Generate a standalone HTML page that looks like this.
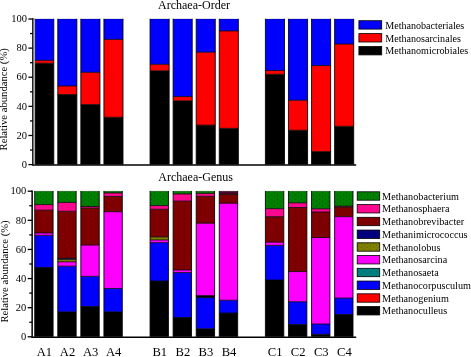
<!DOCTYPE html>
<html><head><meta charset="utf-8"><title>Archaea relative abundance</title>
<style>html,body{margin:0;padding:0;background:#fff;}body{width:471px;height:357px;overflow:hidden;position:relative;font-family:"Liberation Serif",serif;}</style></head>
<body>
<svg width="471" height="357" viewBox="0 0 471 357" style="position:absolute;left:0;top:0;will-change:transform">
<defs>
<pattern id="p_navy" width="6" height="4.4" patternUnits="userSpaceOnUse"><rect width="6" height="4.4" fill="#000080"/><circle cx="1.3" cy="1.1" r="0.5" fill="#000" fill-opacity="0.40"/><circle cx="4.3" cy="3.3" r="0.5" fill="#000" fill-opacity="0.40"/></pattern>
<pattern id="p_olive" width="6" height="4.4" patternUnits="userSpaceOnUse"><rect width="6" height="4.4" fill="#808000"/><circle cx="1.3" cy="1.1" r="0.5" fill="#000" fill-opacity="0.40"/><circle cx="4.3" cy="3.3" r="0.5" fill="#000" fill-opacity="0.40"/></pattern>
<pattern id="p_green" width="6" height="4.4" patternUnits="userSpaceOnUse"><rect width="6" height="4.4" fill="#008000"/><circle cx="1.3" cy="1.1" r="0.5" fill="#000" fill-opacity="0.50"/><circle cx="4.3" cy="3.3" r="0.5" fill="#000" fill-opacity="0.50"/></pattern>
<pattern id="p_maroon" width="6" height="4.4" patternUnits="userSpaceOnUse"><rect width="6" height="4.4" fill="#800000"/><circle cx="1.3" cy="1.1" r="0.5" fill="#000" fill-opacity="0.30"/><circle cx="4.3" cy="3.3" r="0.5" fill="#000" fill-opacity="0.30"/></pattern>
<pattern id="p_teal" width="6" height="4.4" patternUnits="userSpaceOnUse"><rect width="6" height="4.4" fill="#008080"/><circle cx="1.3" cy="1.1" r="0.5" fill="#000" fill-opacity="0.40"/><circle cx="4.3" cy="3.3" r="0.5" fill="#000" fill-opacity="0.40"/></pattern>
</defs>
<rect width="471" height="357" fill="#fff"/>
<g font-family="'Liberation Serif', serif" fill="#000">
<rect x="34.70" y="63.26" width="19.10" height="101.34" fill="#000000"/>
<rect x="34.70" y="60.35" width="19.10" height="2.91" fill="#ff0000"/>
<rect x="34.70" y="19.00" width="19.10" height="41.35" fill="#0000ff"/>
<line x1="34.70" y1="63.26" x2="53.80" y2="63.26" stroke="#000" stroke-width="0.80"/>
<line x1="34.70" y1="60.35" x2="53.80" y2="60.35" stroke="#000" stroke-width="0.80"/>
<line x1="34.30" y1="19.10" x2="54.20" y2="19.10" stroke="#000" stroke-width="0.6" stroke-opacity="0.45"/>
<line x1="34.70" y1="18.80" x2="34.70" y2="164.60" stroke="#000" stroke-width="0.85"/>
<line x1="53.80" y1="18.80" x2="53.80" y2="164.60" stroke="#000" stroke-width="0.85"/>
<rect x="57.77" y="94.57" width="19.10" height="70.03" fill="#000000"/>
<rect x="57.77" y="85.98" width="19.10" height="8.59" fill="#ff0000"/>
<rect x="57.77" y="19.00" width="19.10" height="66.98" fill="#0000ff"/>
<line x1="57.77" y1="94.57" x2="76.87" y2="94.57" stroke="#000" stroke-width="0.80"/>
<line x1="57.77" y1="85.98" x2="76.87" y2="85.98" stroke="#000" stroke-width="0.80"/>
<line x1="57.37" y1="19.10" x2="77.27" y2="19.10" stroke="#000" stroke-width="0.6" stroke-opacity="0.45"/>
<line x1="57.77" y1="18.80" x2="57.77" y2="164.60" stroke="#000" stroke-width="0.85"/>
<line x1="76.87" y1="18.80" x2="76.87" y2="164.60" stroke="#000" stroke-width="0.85"/>
<rect x="80.84" y="104.61" width="19.10" height="59.99" fill="#000000"/>
<rect x="80.84" y="72.29" width="19.10" height="32.32" fill="#ff0000"/>
<rect x="80.84" y="19.00" width="19.10" height="53.29" fill="#0000ff"/>
<line x1="80.84" y1="104.61" x2="99.94" y2="104.61" stroke="#000" stroke-width="0.80"/>
<line x1="80.84" y1="72.29" x2="99.94" y2="72.29" stroke="#000" stroke-width="0.80"/>
<line x1="80.44" y1="19.10" x2="100.34" y2="19.10" stroke="#000" stroke-width="0.6" stroke-opacity="0.45"/>
<line x1="80.84" y1="18.80" x2="80.84" y2="164.60" stroke="#000" stroke-width="0.85"/>
<line x1="99.94" y1="18.80" x2="99.94" y2="164.60" stroke="#000" stroke-width="0.85"/>
<rect x="103.91" y="117.28" width="19.10" height="47.32" fill="#000000"/>
<rect x="103.91" y="39.38" width="19.10" height="77.90" fill="#ff0000"/>
<rect x="103.91" y="19.00" width="19.10" height="20.38" fill="#0000ff"/>
<line x1="103.91" y1="117.28" x2="123.01" y2="117.28" stroke="#000" stroke-width="0.80"/>
<line x1="103.91" y1="39.38" x2="123.01" y2="39.38" stroke="#000" stroke-width="0.80"/>
<line x1="103.51" y1="19.10" x2="123.41" y2="19.10" stroke="#000" stroke-width="0.6" stroke-opacity="0.45"/>
<line x1="103.91" y1="18.80" x2="103.91" y2="164.60" stroke="#000" stroke-width="0.85"/>
<line x1="123.01" y1="18.80" x2="123.01" y2="164.60" stroke="#000" stroke-width="0.85"/>
<rect x="150.05" y="70.83" width="19.10" height="93.77" fill="#000000"/>
<rect x="150.05" y="64.28" width="19.10" height="6.55" fill="#ff0000"/>
<rect x="150.05" y="19.00" width="19.10" height="45.28" fill="#0000ff"/>
<line x1="150.05" y1="70.83" x2="169.15" y2="70.83" stroke="#000" stroke-width="0.80"/>
<line x1="150.05" y1="64.28" x2="169.15" y2="64.28" stroke="#000" stroke-width="0.80"/>
<line x1="149.65" y1="19.10" x2="169.55" y2="19.10" stroke="#000" stroke-width="0.6" stroke-opacity="0.45"/>
<line x1="150.05" y1="18.80" x2="150.05" y2="164.60" stroke="#000" stroke-width="0.85"/>
<line x1="169.15" y1="18.80" x2="169.15" y2="164.60" stroke="#000" stroke-width="0.85"/>
<rect x="173.12" y="100.83" width="19.10" height="63.77" fill="#000000"/>
<rect x="173.12" y="96.60" width="19.10" height="4.22" fill="#ff0000"/>
<rect x="173.12" y="19.00" width="19.10" height="77.60" fill="#0000ff"/>
<line x1="173.12" y1="100.83" x2="192.22" y2="100.83" stroke="#000" stroke-width="0.80"/>
<line x1="173.12" y1="96.60" x2="192.22" y2="96.60" stroke="#000" stroke-width="0.80"/>
<line x1="172.72" y1="19.10" x2="192.62" y2="19.10" stroke="#000" stroke-width="0.6" stroke-opacity="0.45"/>
<line x1="173.12" y1="18.80" x2="173.12" y2="164.60" stroke="#000" stroke-width="0.85"/>
<line x1="192.22" y1="18.80" x2="192.22" y2="164.60" stroke="#000" stroke-width="0.85"/>
<rect x="196.19" y="125.14" width="19.10" height="39.46" fill="#000000"/>
<rect x="196.19" y="52.20" width="19.10" height="72.95" fill="#ff0000"/>
<rect x="196.19" y="19.00" width="19.10" height="33.20" fill="#0000ff"/>
<line x1="196.19" y1="125.14" x2="215.29" y2="125.14" stroke="#000" stroke-width="0.80"/>
<line x1="196.19" y1="52.20" x2="215.29" y2="52.20" stroke="#000" stroke-width="0.80"/>
<line x1="195.79" y1="19.10" x2="215.69" y2="19.10" stroke="#000" stroke-width="0.6" stroke-opacity="0.45"/>
<line x1="196.19" y1="18.80" x2="196.19" y2="164.60" stroke="#000" stroke-width="0.85"/>
<line x1="215.29" y1="18.80" x2="215.29" y2="164.60" stroke="#000" stroke-width="0.85"/>
<rect x="219.26" y="128.35" width="19.10" height="36.25" fill="#000000"/>
<rect x="219.26" y="30.94" width="19.10" height="97.41" fill="#ff0000"/>
<rect x="219.26" y="19.00" width="19.10" height="11.94" fill="#0000ff"/>
<line x1="219.26" y1="128.35" x2="238.36" y2="128.35" stroke="#000" stroke-width="0.80"/>
<line x1="219.26" y1="30.94" x2="238.36" y2="30.94" stroke="#000" stroke-width="0.80"/>
<line x1="218.86" y1="19.10" x2="238.76" y2="19.10" stroke="#000" stroke-width="0.6" stroke-opacity="0.45"/>
<line x1="219.26" y1="18.80" x2="219.26" y2="164.60" stroke="#000" stroke-width="0.85"/>
<line x1="238.36" y1="18.80" x2="238.36" y2="164.60" stroke="#000" stroke-width="0.85"/>
<rect x="265.40" y="74.33" width="19.10" height="90.27" fill="#000000"/>
<rect x="265.40" y="70.54" width="19.10" height="3.79" fill="#ff0000"/>
<rect x="265.40" y="19.00" width="19.10" height="51.54" fill="#0000ff"/>
<line x1="265.40" y1="74.33" x2="284.50" y2="74.33" stroke="#000" stroke-width="0.80"/>
<line x1="265.40" y1="70.54" x2="284.50" y2="70.54" stroke="#000" stroke-width="0.80"/>
<line x1="265.00" y1="19.10" x2="284.90" y2="19.10" stroke="#000" stroke-width="0.6" stroke-opacity="0.45"/>
<line x1="265.40" y1="18.80" x2="265.40" y2="164.60" stroke="#000" stroke-width="0.85"/>
<line x1="284.50" y1="18.80" x2="284.50" y2="164.60" stroke="#000" stroke-width="0.85"/>
<rect x="288.47" y="130.24" width="19.10" height="34.36" fill="#000000"/>
<rect x="288.47" y="100.24" width="19.10" height="29.99" fill="#ff0000"/>
<rect x="288.47" y="19.00" width="19.10" height="81.24" fill="#0000ff"/>
<line x1="288.47" y1="130.24" x2="307.57" y2="130.24" stroke="#000" stroke-width="0.80"/>
<line x1="288.47" y1="100.24" x2="307.57" y2="100.24" stroke="#000" stroke-width="0.80"/>
<line x1="288.07" y1="19.10" x2="307.97" y2="19.10" stroke="#000" stroke-width="0.6" stroke-opacity="0.45"/>
<line x1="288.47" y1="18.80" x2="288.47" y2="164.60" stroke="#000" stroke-width="0.85"/>
<line x1="307.57" y1="18.80" x2="307.57" y2="164.60" stroke="#000" stroke-width="0.85"/>
<rect x="311.54" y="151.64" width="19.10" height="12.96" fill="#000000"/>
<rect x="311.54" y="65.59" width="19.10" height="86.05" fill="#ff0000"/>
<rect x="311.54" y="19.00" width="19.10" height="46.59" fill="#0000ff"/>
<line x1="311.54" y1="151.64" x2="330.64" y2="151.64" stroke="#000" stroke-width="0.80"/>
<line x1="311.54" y1="65.59" x2="330.64" y2="65.59" stroke="#000" stroke-width="0.80"/>
<line x1="311.14" y1="19.10" x2="331.04" y2="19.10" stroke="#000" stroke-width="0.6" stroke-opacity="0.45"/>
<line x1="311.54" y1="18.80" x2="311.54" y2="164.60" stroke="#000" stroke-width="0.85"/>
<line x1="330.64" y1="18.80" x2="330.64" y2="164.60" stroke="#000" stroke-width="0.85"/>
<rect x="334.61" y="126.31" width="19.10" height="38.29" fill="#000000"/>
<rect x="334.61" y="44.04" width="19.10" height="82.26" fill="#ff0000"/>
<rect x="334.61" y="19.00" width="19.10" height="25.04" fill="#0000ff"/>
<line x1="334.61" y1="126.31" x2="353.71" y2="126.31" stroke="#000" stroke-width="0.80"/>
<line x1="334.61" y1="44.04" x2="353.71" y2="44.04" stroke="#000" stroke-width="0.80"/>
<line x1="334.21" y1="19.10" x2="354.11" y2="19.10" stroke="#000" stroke-width="0.6" stroke-opacity="0.45"/>
<line x1="334.61" y1="18.80" x2="334.61" y2="164.60" stroke="#000" stroke-width="0.85"/>
<line x1="353.71" y1="18.80" x2="353.71" y2="164.60" stroke="#000" stroke-width="0.85"/>
<line x1="32.90" y1="18.30" x2="32.90" y2="165.30" stroke="#000" stroke-width="1.5"/>
<line x1="32.20" y1="165.10" x2="356.20" y2="165.10" stroke="#000" stroke-width="1.5"/>
<line x1="28.40" y1="164.60" x2="32.90" y2="164.60" stroke="#000" stroke-width="1.3"/>
<text x="27.10" y="167.80" font-size="10.5" text-anchor="end">0</text>
<line x1="30.00" y1="150.04" x2="32.90" y2="150.04" stroke="#000" stroke-width="1.3"/>
<line x1="28.40" y1="135.48" x2="32.90" y2="135.48" stroke="#000" stroke-width="1.3"/>
<text x="27.10" y="138.68" font-size="10.5" text-anchor="end">20</text>
<line x1="30.00" y1="120.92" x2="32.90" y2="120.92" stroke="#000" stroke-width="1.3"/>
<line x1="28.40" y1="106.36" x2="32.90" y2="106.36" stroke="#000" stroke-width="1.3"/>
<text x="27.10" y="109.56" font-size="10.5" text-anchor="end">40</text>
<line x1="30.00" y1="91.80" x2="32.90" y2="91.80" stroke="#000" stroke-width="1.3"/>
<line x1="28.40" y1="77.24" x2="32.90" y2="77.24" stroke="#000" stroke-width="1.3"/>
<text x="27.10" y="80.44" font-size="10.5" text-anchor="end">60</text>
<line x1="30.00" y1="62.68" x2="32.90" y2="62.68" stroke="#000" stroke-width="1.3"/>
<line x1="28.40" y1="48.12" x2="32.90" y2="48.12" stroke="#000" stroke-width="1.3"/>
<text x="27.10" y="51.32" font-size="10.5" text-anchor="end">80</text>
<line x1="30.00" y1="33.56" x2="32.90" y2="33.56" stroke="#000" stroke-width="1.3"/>
<line x1="28.40" y1="19.00" x2="32.90" y2="19.00" stroke="#000" stroke-width="1.3"/>
<text x="27.10" y="22.20" font-size="10.5" text-anchor="end">100</text>
<text transform="translate(7.40 99.30) rotate(-90)" font-size="10.65" text-anchor="middle">Relative abundance (%)</text>
<line x1="34.35" y1="19.30" x2="34.35" y2="164.40" stroke="#b0b0b0" stroke-width="1.5"/>
<rect x="34.70" y="267.49" width="18.40" height="69.31" fill="#000000"/>
<rect x="34.70" y="235.32" width="18.40" height="32.18" fill="#0000ff"/>
<rect x="34.70" y="232.99" width="18.40" height="2.33" fill="#ff00ff"/>
<rect x="34.70" y="210.13" width="18.40" height="22.86" fill="url(#p_maroon)"/>
<rect x="34.70" y="204.60" width="18.40" height="5.53" fill="#ff0890"/>
<rect x="34.70" y="191.20" width="18.40" height="13.40" fill="url(#p_green)"/>
<line x1="34.70" y1="267.49" x2="53.10" y2="267.49" stroke="#000" stroke-width="0.80"/>
<line x1="34.70" y1="235.32" x2="53.10" y2="235.32" stroke="#000" stroke-width="0.80"/>
<line x1="34.70" y1="232.99" x2="53.10" y2="232.99" stroke="#000" stroke-width="0.80"/>
<line x1="34.70" y1="210.13" x2="53.10" y2="210.13" stroke="#000" stroke-width="0.80"/>
<line x1="34.70" y1="204.60" x2="53.10" y2="204.60" stroke="#000" stroke-width="0.80"/>
<line x1="34.30" y1="191.30" x2="53.50" y2="191.30" stroke="#000" stroke-width="0.6" stroke-opacity="0.45"/>
<line x1="34.70" y1="191.00" x2="34.70" y2="336.80" stroke="#000" stroke-width="0.85"/>
<line x1="53.10" y1="191.00" x2="53.10" y2="336.80" stroke="#000" stroke-width="0.85"/>
<rect x="57.77" y="311.90" width="18.40" height="24.90" fill="#000000"/>
<rect x="57.77" y="266.18" width="18.40" height="45.72" fill="#0000ff"/>
<rect x="57.77" y="261.82" width="18.40" height="4.37" fill="#ff00ff"/>
<rect x="57.77" y="259.27" width="18.40" height="2.55" fill="url(#p_olive)"/>
<rect x="57.77" y="258.32" width="18.40" height="0.95" fill="url(#p_navy)"/>
<rect x="57.77" y="211.29" width="18.40" height="47.03" fill="url(#p_maroon)"/>
<rect x="57.77" y="202.41" width="18.40" height="8.88" fill="#ff0890"/>
<rect x="57.77" y="191.20" width="18.40" height="11.21" fill="url(#p_green)"/>
<line x1="57.77" y1="311.90" x2="76.17" y2="311.90" stroke="#000" stroke-width="0.80"/>
<line x1="57.77" y1="266.18" x2="76.17" y2="266.18" stroke="#000" stroke-width="0.80"/>
<line x1="57.77" y1="261.82" x2="76.17" y2="261.82" stroke="#000" stroke-width="0.80"/>
<line x1="57.77" y1="259.27" x2="76.17" y2="259.27" stroke="#000" stroke-width="0.80"/>
<line x1="57.77" y1="258.32" x2="76.17" y2="258.32" stroke="#000" stroke-width="0.80"/>
<line x1="57.77" y1="211.29" x2="76.17" y2="211.29" stroke="#000" stroke-width="0.80"/>
<line x1="57.77" y1="202.41" x2="76.17" y2="202.41" stroke="#000" stroke-width="0.80"/>
<line x1="57.37" y1="191.30" x2="76.57" y2="191.30" stroke="#000" stroke-width="0.6" stroke-opacity="0.45"/>
<line x1="57.77" y1="191.00" x2="57.77" y2="336.80" stroke="#000" stroke-width="0.85"/>
<line x1="76.17" y1="191.00" x2="76.17" y2="336.80" stroke="#000" stroke-width="0.85"/>
<rect x="80.84" y="306.52" width="18.40" height="30.28" fill="#000000"/>
<rect x="80.84" y="276.38" width="18.40" height="30.14" fill="#0000ff"/>
<rect x="80.84" y="245.07" width="18.40" height="31.30" fill="#ff00ff"/>
<rect x="80.84" y="208.09" width="18.40" height="36.98" fill="url(#p_maroon)"/>
<rect x="80.84" y="206.49" width="18.40" height="1.60" fill="#ff0890"/>
<rect x="80.84" y="191.20" width="18.40" height="15.29" fill="url(#p_green)"/>
<line x1="80.84" y1="306.52" x2="99.24" y2="306.52" stroke="#000" stroke-width="0.80"/>
<line x1="80.84" y1="276.38" x2="99.24" y2="276.38" stroke="#000" stroke-width="0.80"/>
<line x1="80.84" y1="245.07" x2="99.24" y2="245.07" stroke="#000" stroke-width="0.80"/>
<line x1="80.84" y1="208.09" x2="99.24" y2="208.09" stroke="#000" stroke-width="0.80"/>
<line x1="80.84" y1="206.49" x2="99.24" y2="206.49" stroke="#000" stroke-width="0.80"/>
<line x1="80.44" y1="191.30" x2="99.64" y2="191.30" stroke="#000" stroke-width="0.6" stroke-opacity="0.45"/>
<line x1="80.84" y1="191.00" x2="80.84" y2="336.80" stroke="#000" stroke-width="0.85"/>
<line x1="99.24" y1="191.00" x2="99.24" y2="336.80" stroke="#000" stroke-width="0.85"/>
<rect x="103.91" y="311.90" width="18.40" height="24.90" fill="#000000"/>
<rect x="103.91" y="288.46" width="18.40" height="23.44" fill="#0000ff"/>
<rect x="103.91" y="211.73" width="18.40" height="76.73" fill="#ff00ff"/>
<rect x="103.91" y="196.44" width="18.40" height="15.29" fill="url(#p_maroon)"/>
<rect x="103.91" y="192.95" width="18.40" height="3.49" fill="#ff0890"/>
<rect x="103.91" y="191.20" width="18.40" height="1.75" fill="url(#p_green)"/>
<line x1="103.91" y1="311.90" x2="122.31" y2="311.90" stroke="#000" stroke-width="0.80"/>
<line x1="103.91" y1="288.46" x2="122.31" y2="288.46" stroke="#000" stroke-width="0.80"/>
<line x1="103.91" y1="211.73" x2="122.31" y2="211.73" stroke="#000" stroke-width="0.80"/>
<line x1="103.91" y1="196.44" x2="122.31" y2="196.44" stroke="#000" stroke-width="0.80"/>
<line x1="103.91" y1="192.95" x2="122.31" y2="192.95" stroke="#000" stroke-width="0.80"/>
<line x1="103.51" y1="191.30" x2="122.71" y2="191.30" stroke="#000" stroke-width="0.6" stroke-opacity="0.45"/>
<line x1="103.91" y1="191.00" x2="103.91" y2="336.80" stroke="#000" stroke-width="0.85"/>
<line x1="122.31" y1="191.00" x2="122.31" y2="336.80" stroke="#000" stroke-width="0.85"/>
<rect x="150.05" y="281.04" width="18.40" height="55.76" fill="#000000"/>
<rect x="150.05" y="242.60" width="18.40" height="38.44" fill="#0000ff"/>
<rect x="150.05" y="239.98" width="18.40" height="2.62" fill="#ff00ff"/>
<rect x="150.05" y="236.92" width="18.40" height="3.06" fill="url(#p_olive)"/>
<rect x="150.05" y="209.25" width="18.40" height="27.66" fill="url(#p_maroon)"/>
<rect x="150.05" y="205.61" width="18.40" height="3.64" fill="#ff0890"/>
<rect x="150.05" y="191.20" width="18.40" height="14.41" fill="url(#p_green)"/>
<line x1="150.05" y1="281.04" x2="168.45" y2="281.04" stroke="#000" stroke-width="0.80"/>
<line x1="150.05" y1="242.60" x2="168.45" y2="242.60" stroke="#000" stroke-width="0.80"/>
<line x1="150.05" y1="239.98" x2="168.45" y2="239.98" stroke="#000" stroke-width="0.80"/>
<line x1="150.05" y1="236.92" x2="168.45" y2="236.92" stroke="#000" stroke-width="0.80"/>
<line x1="150.05" y1="209.25" x2="168.45" y2="209.25" stroke="#000" stroke-width="0.80"/>
<line x1="150.05" y1="205.61" x2="168.45" y2="205.61" stroke="#000" stroke-width="0.80"/>
<line x1="149.65" y1="191.30" x2="168.85" y2="191.30" stroke="#000" stroke-width="0.6" stroke-opacity="0.45"/>
<line x1="150.05" y1="191.00" x2="150.05" y2="336.80" stroke="#000" stroke-width="0.85"/>
<line x1="168.45" y1="191.00" x2="168.45" y2="336.80" stroke="#000" stroke-width="0.85"/>
<rect x="173.12" y="317.44" width="18.40" height="19.36" fill="#000000"/>
<rect x="173.12" y="272.59" width="18.40" height="44.84" fill="#0000ff"/>
<rect x="173.12" y="269.97" width="18.40" height="2.62" fill="#ff00ff"/>
<rect x="173.12" y="201.10" width="18.40" height="68.87" fill="url(#p_maroon)"/>
<rect x="173.12" y="193.97" width="18.40" height="7.13" fill="#ff0890"/>
<rect x="173.12" y="191.20" width="18.40" height="2.77" fill="url(#p_green)"/>
<line x1="173.12" y1="317.44" x2="191.52" y2="317.44" stroke="#000" stroke-width="0.80"/>
<line x1="173.12" y1="272.59" x2="191.52" y2="272.59" stroke="#000" stroke-width="0.80"/>
<line x1="173.12" y1="269.97" x2="191.52" y2="269.97" stroke="#000" stroke-width="0.80"/>
<line x1="173.12" y1="201.10" x2="191.52" y2="201.10" stroke="#000" stroke-width="0.80"/>
<line x1="173.12" y1="193.97" x2="191.52" y2="193.97" stroke="#000" stroke-width="0.80"/>
<line x1="172.72" y1="191.30" x2="191.92" y2="191.30" stroke="#000" stroke-width="0.6" stroke-opacity="0.45"/>
<line x1="173.12" y1="191.00" x2="173.12" y2="336.80" stroke="#000" stroke-width="0.85"/>
<line x1="191.52" y1="191.00" x2="191.52" y2="336.80" stroke="#000" stroke-width="0.85"/>
<rect x="196.19" y="328.79" width="18.40" height="8.01" fill="#000000"/>
<rect x="196.19" y="297.63" width="18.40" height="31.16" fill="#0000ff"/>
<rect x="196.19" y="295.60" width="18.40" height="2.04" fill="#000000"/>
<rect x="196.19" y="223.23" width="18.40" height="72.36" fill="#ff00ff"/>
<rect x="196.19" y="196.30" width="18.40" height="26.94" fill="url(#p_maroon)"/>
<rect x="196.19" y="193.38" width="18.40" height="2.91" fill="#ff0890"/>
<rect x="196.19" y="191.20" width="18.40" height="2.18" fill="url(#p_green)"/>
<line x1="196.19" y1="328.79" x2="214.59" y2="328.79" stroke="#000" stroke-width="0.80"/>
<line x1="196.19" y1="297.63" x2="214.59" y2="297.63" stroke="#000" stroke-width="0.80"/>
<line x1="196.19" y1="295.60" x2="214.59" y2="295.60" stroke="#000" stroke-width="0.80"/>
<line x1="196.19" y1="223.23" x2="214.59" y2="223.23" stroke="#000" stroke-width="0.80"/>
<line x1="196.19" y1="196.30" x2="214.59" y2="196.30" stroke="#000" stroke-width="0.80"/>
<line x1="196.19" y1="193.38" x2="214.59" y2="193.38" stroke="#000" stroke-width="0.80"/>
<line x1="195.79" y1="191.30" x2="214.99" y2="191.30" stroke="#000" stroke-width="0.6" stroke-opacity="0.45"/>
<line x1="196.19" y1="191.00" x2="196.19" y2="336.80" stroke="#000" stroke-width="0.85"/>
<line x1="214.59" y1="191.00" x2="214.59" y2="336.80" stroke="#000" stroke-width="0.85"/>
<rect x="219.26" y="313.07" width="18.40" height="23.73" fill="#000000"/>
<rect x="219.26" y="300.25" width="18.40" height="12.81" fill="#0000ff"/>
<rect x="219.26" y="203.28" width="18.40" height="96.97" fill="#ff00ff"/>
<rect x="219.26" y="194.40" width="18.40" height="8.88" fill="url(#p_maroon)"/>
<rect x="219.26" y="191.20" width="18.40" height="3.20" fill="#4a0828"/>
<line x1="219.26" y1="313.07" x2="237.66" y2="313.07" stroke="#000" stroke-width="0.80"/>
<line x1="219.26" y1="300.25" x2="237.66" y2="300.25" stroke="#000" stroke-width="0.80"/>
<line x1="219.26" y1="203.28" x2="237.66" y2="203.28" stroke="#000" stroke-width="0.80"/>
<line x1="219.26" y1="194.40" x2="237.66" y2="194.40" stroke="#000" stroke-width="0.80"/>
<line x1="218.86" y1="191.30" x2="238.06" y2="191.30" stroke="#000" stroke-width="0.6" stroke-opacity="0.45"/>
<line x1="219.26" y1="191.00" x2="219.26" y2="336.80" stroke="#000" stroke-width="0.85"/>
<line x1="237.66" y1="191.00" x2="237.66" y2="336.80" stroke="#000" stroke-width="0.85"/>
<rect x="265.40" y="280.02" width="18.40" height="56.78" fill="#000000"/>
<rect x="265.40" y="245.36" width="18.40" height="34.65" fill="#0000ff"/>
<rect x="265.40" y="242.16" width="18.40" height="3.20" fill="#ff00ff"/>
<rect x="265.40" y="216.68" width="18.40" height="25.48" fill="url(#p_maroon)"/>
<rect x="265.40" y="208.67" width="18.40" height="8.01" fill="#ff0890"/>
<rect x="265.40" y="191.20" width="18.40" height="17.47" fill="url(#p_green)"/>
<line x1="265.40" y1="280.02" x2="283.80" y2="280.02" stroke="#000" stroke-width="0.80"/>
<line x1="265.40" y1="245.36" x2="283.80" y2="245.36" stroke="#000" stroke-width="0.80"/>
<line x1="265.40" y1="242.16" x2="283.80" y2="242.16" stroke="#000" stroke-width="0.80"/>
<line x1="265.40" y1="216.68" x2="283.80" y2="216.68" stroke="#000" stroke-width="0.80"/>
<line x1="265.40" y1="208.67" x2="283.80" y2="208.67" stroke="#000" stroke-width="0.80"/>
<line x1="265.00" y1="191.30" x2="284.20" y2="191.30" stroke="#000" stroke-width="0.6" stroke-opacity="0.45"/>
<line x1="265.40" y1="191.00" x2="265.40" y2="336.80" stroke="#000" stroke-width="0.85"/>
<line x1="283.80" y1="191.00" x2="283.80" y2="336.80" stroke="#000" stroke-width="0.85"/>
<rect x="288.47" y="324.57" width="18.40" height="12.23" fill="#000000"/>
<rect x="288.47" y="301.71" width="18.40" height="22.86" fill="#0000ff"/>
<rect x="288.47" y="271.57" width="18.40" height="30.14" fill="#ff00ff"/>
<rect x="288.47" y="207.51" width="18.40" height="64.06" fill="url(#p_maroon)"/>
<rect x="288.47" y="202.85" width="18.40" height="4.66" fill="#ff0890"/>
<rect x="288.47" y="191.20" width="18.40" height="11.65" fill="url(#p_green)"/>
<line x1="288.47" y1="324.57" x2="306.87" y2="324.57" stroke="#000" stroke-width="0.80"/>
<line x1="288.47" y1="301.71" x2="306.87" y2="301.71" stroke="#000" stroke-width="0.80"/>
<line x1="288.47" y1="271.57" x2="306.87" y2="271.57" stroke="#000" stroke-width="0.80"/>
<line x1="288.47" y1="207.51" x2="306.87" y2="207.51" stroke="#000" stroke-width="0.80"/>
<line x1="288.47" y1="202.85" x2="306.87" y2="202.85" stroke="#000" stroke-width="0.80"/>
<line x1="288.07" y1="191.30" x2="307.27" y2="191.30" stroke="#000" stroke-width="0.6" stroke-opacity="0.45"/>
<line x1="288.47" y1="191.00" x2="288.47" y2="336.80" stroke="#000" stroke-width="0.85"/>
<line x1="306.87" y1="191.00" x2="306.87" y2="336.80" stroke="#000" stroke-width="0.85"/>
<rect x="311.54" y="334.32" width="18.40" height="2.48" fill="#000000"/>
<rect x="311.54" y="323.99" width="18.40" height="10.34" fill="#0000ff"/>
<rect x="311.54" y="237.50" width="18.40" height="86.49" fill="#ff00ff"/>
<rect x="311.54" y="212.02" width="18.40" height="25.48" fill="url(#p_maroon)"/>
<rect x="311.54" y="208.82" width="18.40" height="3.20" fill="#ff0890"/>
<rect x="311.54" y="191.20" width="18.40" height="17.62" fill="url(#p_green)"/>
<line x1="311.54" y1="334.32" x2="329.94" y2="334.32" stroke="#000" stroke-width="0.80"/>
<line x1="311.54" y1="323.99" x2="329.94" y2="323.99" stroke="#000" stroke-width="0.80"/>
<line x1="311.54" y1="237.50" x2="329.94" y2="237.50" stroke="#000" stroke-width="0.80"/>
<line x1="311.54" y1="212.02" x2="329.94" y2="212.02" stroke="#000" stroke-width="0.80"/>
<line x1="311.54" y1="208.82" x2="329.94" y2="208.82" stroke="#000" stroke-width="0.80"/>
<line x1="311.14" y1="191.30" x2="330.34" y2="191.30" stroke="#000" stroke-width="0.6" stroke-opacity="0.45"/>
<line x1="311.54" y1="191.00" x2="311.54" y2="336.80" stroke="#000" stroke-width="0.85"/>
<line x1="329.94" y1="191.00" x2="329.94" y2="336.80" stroke="#000" stroke-width="0.85"/>
<rect x="334.61" y="314.52" width="18.40" height="22.28" fill="#000000"/>
<rect x="334.61" y="298.07" width="18.40" height="16.45" fill="#0000ff"/>
<rect x="334.61" y="216.68" width="18.40" height="81.39" fill="#ff00ff"/>
<rect x="334.61" y="207.07" width="18.40" height="9.61" fill="url(#p_maroon)"/>
<rect x="334.61" y="206.20" width="18.40" height="0.87" fill="#ff0890"/>
<rect x="334.61" y="191.20" width="18.40" height="15.00" fill="url(#p_green)"/>
<line x1="334.61" y1="314.52" x2="353.01" y2="314.52" stroke="#000" stroke-width="0.80"/>
<line x1="334.61" y1="298.07" x2="353.01" y2="298.07" stroke="#000" stroke-width="0.80"/>
<line x1="334.61" y1="216.68" x2="353.01" y2="216.68" stroke="#000" stroke-width="0.80"/>
<line x1="334.61" y1="207.07" x2="353.01" y2="207.07" stroke="#000" stroke-width="0.80"/>
<line x1="334.61" y1="206.20" x2="353.01" y2="206.20" stroke="#000" stroke-width="0.80"/>
<line x1="334.21" y1="191.30" x2="353.41" y2="191.30" stroke="#000" stroke-width="0.6" stroke-opacity="0.45"/>
<line x1="334.61" y1="191.00" x2="334.61" y2="336.80" stroke="#000" stroke-width="0.85"/>
<line x1="353.01" y1="191.00" x2="353.01" y2="336.80" stroke="#000" stroke-width="0.85"/>
<line x1="32.15" y1="190.50" x2="32.15" y2="337.50" stroke="#000" stroke-width="1.5"/>
<line x1="31.45" y1="337.30" x2="356.20" y2="337.30" stroke="#000" stroke-width="1.5"/>
<line x1="27.65" y1="336.80" x2="32.15" y2="336.80" stroke="#000" stroke-width="1.3"/>
<text x="26.35" y="340.00" font-size="10.5" text-anchor="end">0</text>
<line x1="29.25" y1="322.24" x2="32.15" y2="322.24" stroke="#000" stroke-width="1.3"/>
<line x1="27.65" y1="307.68" x2="32.15" y2="307.68" stroke="#000" stroke-width="1.3"/>
<text x="26.35" y="310.88" font-size="10.5" text-anchor="end">20</text>
<line x1="29.25" y1="293.12" x2="32.15" y2="293.12" stroke="#000" stroke-width="1.3"/>
<line x1="27.65" y1="278.56" x2="32.15" y2="278.56" stroke="#000" stroke-width="1.3"/>
<text x="26.35" y="281.76" font-size="10.5" text-anchor="end">40</text>
<line x1="29.25" y1="264.00" x2="32.15" y2="264.00" stroke="#000" stroke-width="1.3"/>
<line x1="27.65" y1="249.44" x2="32.15" y2="249.44" stroke="#000" stroke-width="1.3"/>
<text x="26.35" y="252.64" font-size="10.5" text-anchor="end">60</text>
<line x1="29.25" y1="234.88" x2="32.15" y2="234.88" stroke="#000" stroke-width="1.3"/>
<line x1="27.65" y1="220.32" x2="32.15" y2="220.32" stroke="#000" stroke-width="1.3"/>
<text x="26.35" y="223.52" font-size="10.5" text-anchor="end">80</text>
<line x1="29.25" y1="205.76" x2="32.15" y2="205.76" stroke="#000" stroke-width="1.3"/>
<line x1="27.65" y1="191.20" x2="32.15" y2="191.20" stroke="#000" stroke-width="1.3"/>
<text x="26.35" y="194.40" font-size="10.5" text-anchor="end">100</text>
<text transform="translate(8.30 271.50) rotate(-90)" font-size="10.65" text-anchor="middle">Relative abundance (%)</text>
<text x="194" y="8.6" font-size="12" text-anchor="middle">Archaea-Order</text>
<text x="195.6" y="181.2" font-size="12" text-anchor="middle">Archaea-Genus</text>
<text x="44.45" y="356.30" font-size="12.6" text-anchor="middle">A1</text>
<text x="67.52" y="356.30" font-size="12.6" text-anchor="middle">A2</text>
<text x="90.59" y="355.60" font-size="12.6" text-anchor="middle">A3</text>
<text x="113.66" y="355.60" font-size="12.6" text-anchor="middle">A4</text>
<text x="159.80" y="356.30" font-size="12.6" text-anchor="middle">B1</text>
<text x="182.87" y="356.30" font-size="12.6" text-anchor="middle">B2</text>
<text x="205.94" y="355.60" font-size="12.6" text-anchor="middle">B3</text>
<text x="229.01" y="355.60" font-size="12.6" text-anchor="middle">B4</text>
<text x="275.15" y="356.30" font-size="12.6" text-anchor="middle">C1</text>
<text x="298.22" y="356.30" font-size="12.6" text-anchor="middle">C2</text>
<text x="321.29" y="355.60" font-size="12.6" text-anchor="middle">C3</text>
<text x="344.36" y="355.60" font-size="12.6" text-anchor="middle">C4</text>
<rect x="358.9" y="20.70" width="22.8" height="8.4" fill="#0000ff" stroke="#000" stroke-width="0.8"/>
<text x="385.2" y="28.60" font-size="10.1">Methanobacteriales</text>
<rect x="358.9" y="33.60" width="22.8" height="8.4" fill="#ff0000" stroke="#000" stroke-width="0.8"/>
<text x="385.2" y="41.50" font-size="10.1">Methanosarcinales</text>
<rect x="358.9" y="46.50" width="22.8" height="8.4" fill="#000000" stroke="#000" stroke-width="0.8"/>
<text x="385.2" y="54.40" font-size="10.1">Methanomicrobiales</text>
<rect x="357.2" y="191.80" width="22.5" height="8.4" fill="url(#p_green)" stroke="#000" stroke-width="0.8"/>
<text x="382.1" y="199.60" font-size="10.2">Methanobacterium</text>
<rect x="357.2" y="204.55" width="22.5" height="8.4" fill="#ff0890" stroke="#000" stroke-width="0.8"/>
<text x="382.1" y="212.35" font-size="10.2">Methanosphaera</text>
<rect x="357.2" y="217.30" width="22.5" height="8.4" fill="url(#p_maroon)" stroke="#000" stroke-width="0.8"/>
<text x="382.1" y="225.10" font-size="10.2">Methanobrevibacter</text>
<rect x="357.2" y="230.05" width="22.5" height="8.4" fill="url(#p_navy)" stroke="#000" stroke-width="0.8"/>
<text x="382.1" y="237.85" font-size="10.2">Methanimicrococcus</text>
<rect x="357.2" y="242.80" width="22.5" height="8.4" fill="url(#p_olive)" stroke="#000" stroke-width="0.8"/>
<text x="382.1" y="250.60" font-size="10.2">Methanolobus</text>
<rect x="357.2" y="255.55" width="22.5" height="8.4" fill="#ff00ff" stroke="#000" stroke-width="0.8"/>
<text x="382.1" y="263.35" font-size="10.2">Methanosarcina</text>
<rect x="357.2" y="268.30" width="22.5" height="8.4" fill="url(#p_teal)" stroke="#000" stroke-width="0.8"/>
<text x="382.1" y="276.10" font-size="10.2">Methanosaeta</text>
<rect x="357.2" y="281.05" width="22.5" height="8.4" fill="#0000ff" stroke="#000" stroke-width="0.8"/>
<text x="382.1" y="288.85" font-size="10.2">Methanocorpusculum</text>
<rect x="357.2" y="293.80" width="22.5" height="8.4" fill="#ff0000" stroke="#000" stroke-width="0.8"/>
<text x="382.1" y="301.60" font-size="10.2">Methanogenium</text>
<rect x="357.2" y="306.55" width="22.5" height="8.4" fill="#000000" stroke="#000" stroke-width="0.8"/>
<text x="382.1" y="314.35" font-size="10.2">Methanoculleus</text>
</g></svg>
</body></html>
